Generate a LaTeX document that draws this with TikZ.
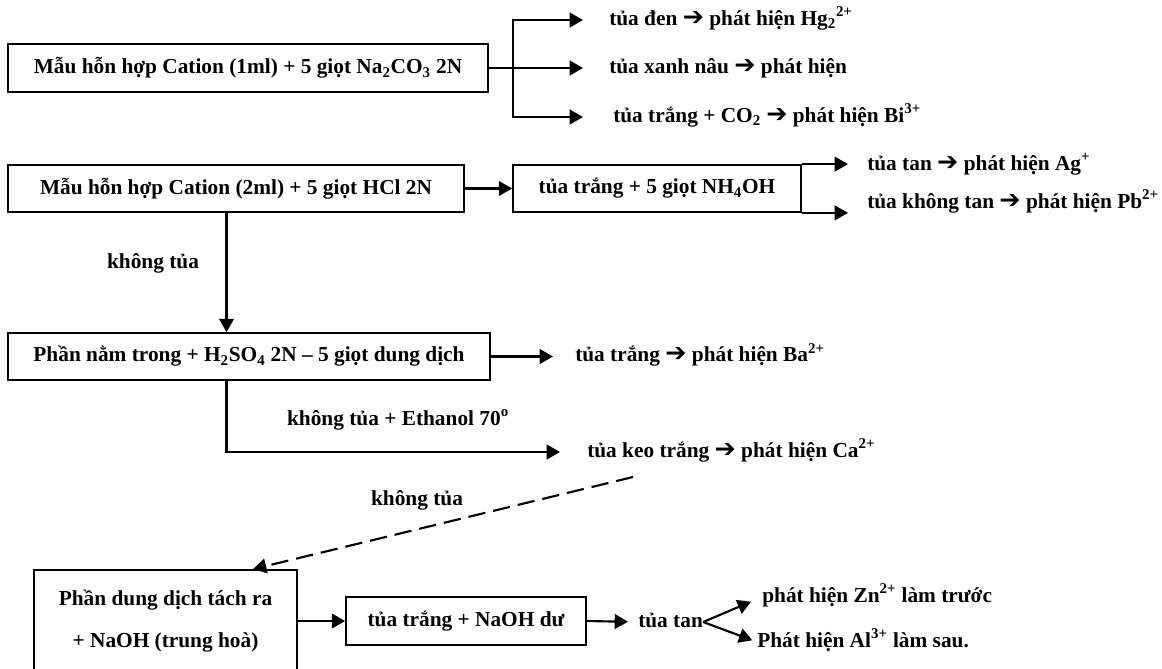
\documentclass[tikz,border=0pt]{standalone}
\usepackage{fontspec}
\setmainfont{Liberation Serif}
\newfontfamily\arrfont{DejaVu Sans}
\usetikzlibrary{arrows.meta}

\newcommand\yields{{\arrfont\fontsize{19}{19}\selectfont ➔}}

\begin{document}
\begin{tikzpicture}[x=0.75pt, y=-0.75pt,
    box/.style ={draw, line width=1.3pt, font=\bfseries\fontsize{16}{19}\selectfont, align=center, inner sep=0pt},
    res/.style ={font=\bfseries\fontsize{16}{19}\selectfont, anchor=west, inner sep=0pt, text height=11pt, text depth=3.5pt},
    cue/.style ={font=\bfseries\fontsize{16}{19}\selectfont, inner sep=0pt},
    link/.style={line width=1.6pt},
    arr/.style ={link, -{Triangle[length=10pt,width=11pt]}},
  ]
  \useasboundingbox (0,0) rectangle (1162,668);

  % ---------------- test with Na2CO3 --------------------------------------
  \node[box, minimum width=360pt, minimum height=36pt] (mix1) at (248,68)
        {Mẫu hỗn hợp Cation (1ml) + 5 giọt Na\textsubscript{2}CO\textsubscript{3} 2N};
  \coordinate (fork1) at (513,68);
  \node[res] (hg) at (609,20)  {tủa đen \yields\ phát hiện Hg\textsubscript{2}\textsuperscript{2+}};
  \node[res] (cu) at (609,68)  {tủa xanh nâu \yields\ phát hiện};
  \node[res] (bi) at (613,117) {tủa trắng + CO\textsubscript{2} \yields\ phát hiện Bi\textsuperscript{3+}};
  \draw[link] (mix1.east) -- (fork1);
  \draw[arr, shorten >=19.5pt] (fork1) |- (hg.west);
  \draw[arr, shorten >=19.5pt] (fork1) -- (cu.west);
  \draw[arr, shorten >=22.5pt] (fork1) |- (bi.west);

  % ---------------- test with HCl -----------------------------------------
  \node[box, minimum width=342pt, minimum height=35.25pt] (mix2) at (236,188.5)
        {Mẫu hỗn hợp Cation (2ml) + 5 giọt HCl 2N};
  \node[box, minimum width=216pt, minimum height=35.25pt] (nh4) at (657,188.5)
        {tủa trắng + 5 giọt NH\textsubscript{4}OH};
  \node[res] (ag) at (867,165) {tủa tan \yields\ phát hiện Ag\textsuperscript{+}};
  \node[res] (pb) at (867,203) {tủa không tan \yields\ phát hiện Pb\textsuperscript{2+}};
  \draw[arr] (mix2) -- (nh4);
  \draw[arr, shorten >=14.25pt] (nh4.north east) -- (nh4.north east -| ag.west);
  \draw[arr, shorten >=14.25pt] (nh4.south east) -- (nh4.south east -| pb.west);

  % ---------------- no precipitate: H2SO4 ---------------------------------
  \coordinate (drop) at (226.5,0);
  \node[cue] (kt1) at (153,263) {không tủa};
  \node[box, minimum width=361.5pt, minimum height=35.25pt] (h2so4) at (249,356.5)
        {Phần nằm trong + H\textsubscript{2}SO\textsubscript{4} 2N – 5 giọt dung dịch};
  \draw[arr] (mix2.south -| drop) -- (h2so4.north -| drop);

  \node[res] (ba)  at (575,356.5) {tủa trắng \yields\ phát hiện Ba\textsuperscript{2+}};
  \node[res] (ca)  at (587,452)   {tủa keo trắng \yields\ phát hiện Ca\textsuperscript{2+}};
  \node[cue] (eth) at (398,420)   {không tủa + Ethanol 70\textsuperscript{o}};
  \draw[arr, shorten >=16.5pt] (h2so4) -- (ba.west);
  \draw[arr, shorten >=20.25pt] (h2so4.south -| drop) |- (ca.west);

  % ---------------- what is left: NaOH ------------------------------------
  \coordinate (back) at (633,477);
  \coordinate (land) at (253,0);
  \node[cue] (kt2) at (417,500) {không tủa};
  \node[box, minimum width=197.25pt, minimum height=105pt, font=\bfseries\fontsize{16}{31.5}\selectfont] (sep) at (165.5,640)
        {Phần dung dịch tách ra\\+ NaOH (trung hoà)\\\mbox{}};
  \draw[arr, dash pattern=on 13pt off 6pt] (back) -- (sep.north -| land);

  \node[box, minimum width=180pt, minimum height=36pt] (naoh) at (466,621) {tủa trắng + NaOH dư};
  \node[res] (tan) at (638,622) {tủa tan};
  \node[res] (zn)  at (762,597) {phát hiện Zn\textsuperscript{2+} làm trước};
  \node[res] (al)  at (757,642) {Phát hiện Al\textsuperscript{3+} làm sau.};
  \draw[arr] (sep.east |- naoh.west) -- (naoh.west);
  \draw[arr, shorten >=7.5pt] (naoh.east) -- (tan.west);
  \draw[arr, shorten >=9pt]   (tan.east) -- (zn.west);
  \draw[arr, shorten >=3.75pt] (tan.east) -- (al.west);

\end{tikzpicture}
\end{document}
